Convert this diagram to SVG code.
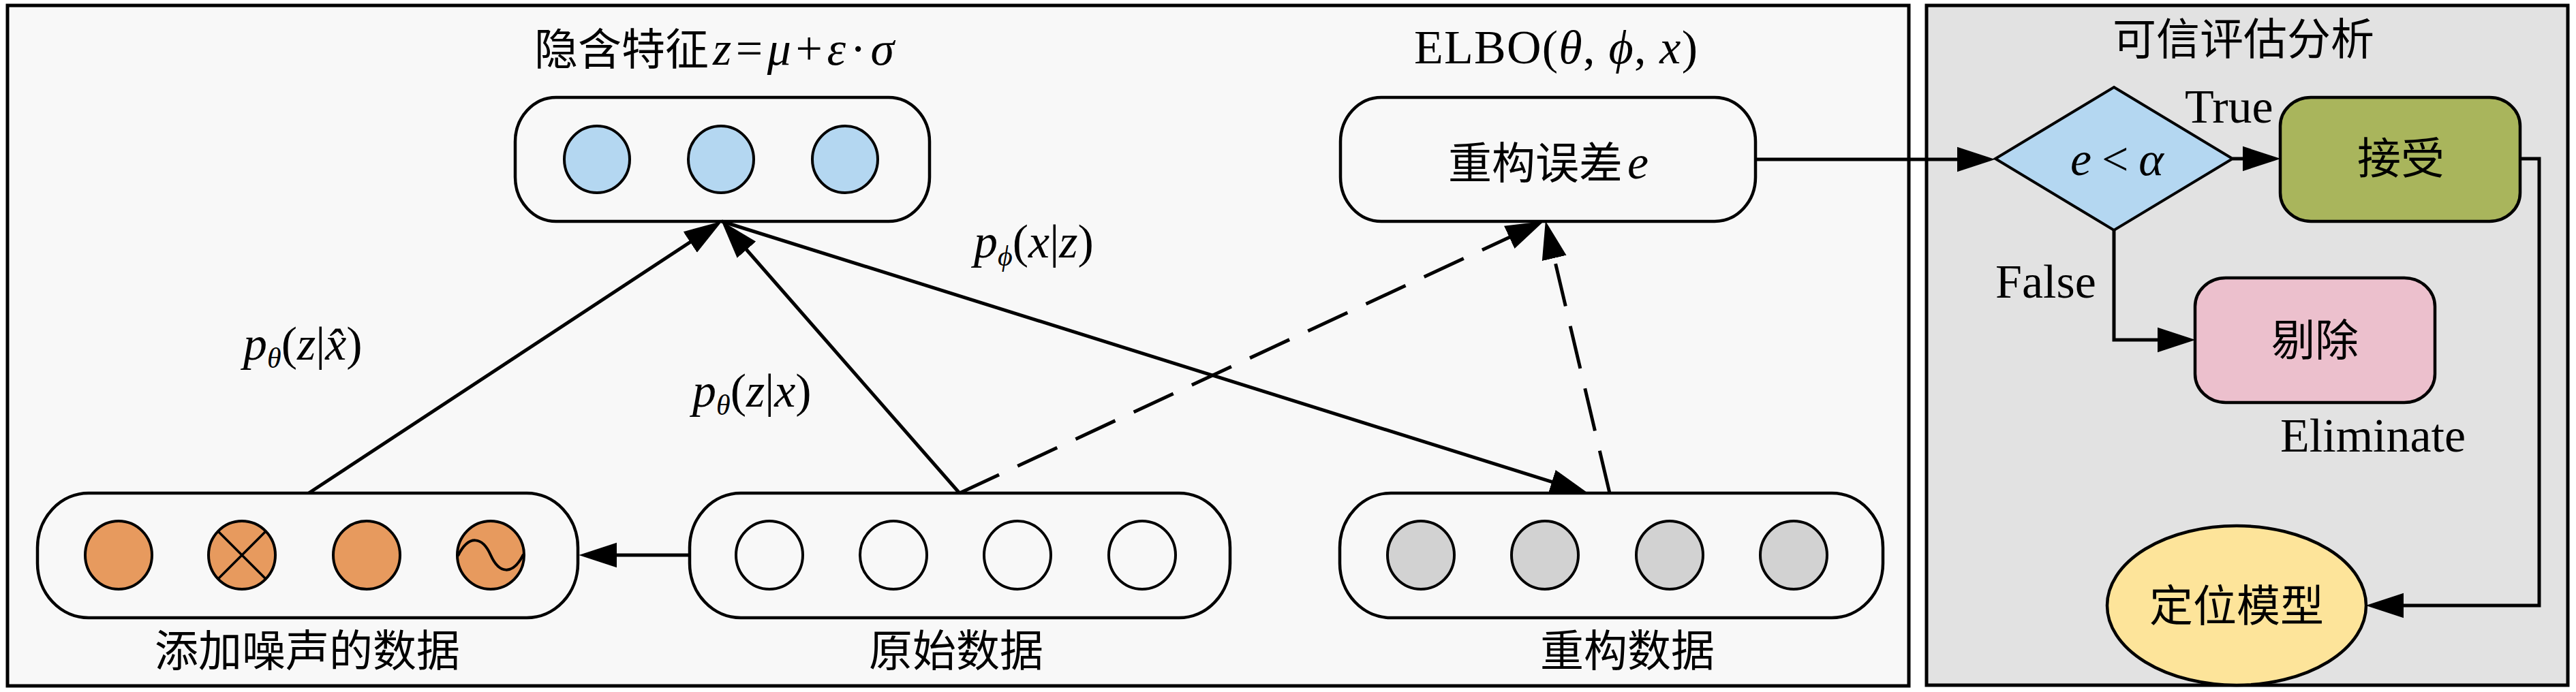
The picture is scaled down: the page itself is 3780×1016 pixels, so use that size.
<svg xmlns="http://www.w3.org/2000/svg" width="3780" height="1016" viewBox="0 0 3780 1016">
<style>
.frame{fill:#F8F8F8;stroke:#000;stroke-width:5}
.frame2{fill:#E2E2E2;stroke:#000;stroke-width:5}
.box{fill:#F8F8F8;stroke:#000;stroke-width:4.5}
.unit{stroke:#000;stroke-width:4}
.blue{fill:#B4D7F1}
.orange{fill:#E79A5E}
.white{fill:#F8F8F8}
.gray{fill:#D2D2D2}
.cjk{font-family:"Noto Sans CJK SC","Noto Sans CJK TC",sans-serif;font-size:64px;fill:#000}
.lat{font-family:"Liberation Serif","Times New Roman",serif;font-size:70px;fill:#000}
.it{font-style:italic}
.up{font-style:normal}
.conn{fill:none;stroke:#000;stroke-width:5}
.dash{stroke-dasharray:64,30}
</style>
<defs>
<marker id="ah" markerUnits="userSpaceOnUse" markerWidth="56" markerHeight="38" viewBox="0 0 52 34" refX="44" refY="17" orient="auto">
<path d="M0,0 L52,17 L0,34 z" fill="#000"/>
</marker>
</defs>
<rect x="0" y="0" width="3780" height="1016" fill="#FFFFFF"/>
<rect class="frame" x="11" y="8" width="2790" height="999"/>
<rect class="frame2" x="2827" y="8" width="941" height="998"/>

<g id="latent">
<text class="cjk" x="784" y="95">隐含特征</text>
<text class="lat it" x="1046" y="95" font-size="72" textLength="266" lengthAdjust="spacing">z<tspan class="up">=</tspan>μ<tspan class="up">+</tspan>ε<tspan class="up">·</tspan>σ</text>
<rect class="box" x="756" y="143" width="608" height="182" rx="60" ry="65"/>
<ellipse class="unit blue" cx="876" cy="234" rx="48" ry="49"/>
<ellipse class="unit blue" cx="1058" cy="234" rx="48" ry="49"/>
<ellipse class="unit blue" cx="1240" cy="234" rx="48" ry="49"/>
</g>

<g id="recon-error">
<text class="lat" x="2075" y="93" textLength="416" lengthAdjust="spacing">ELBO(<tspan class="it">θ</tspan>, <tspan class="it">ϕ</tspan>, <tspan class="it">x</tspan>)</text>
<rect class="box" x="1967" y="143" width="609" height="182" rx="60" ry="65"/>
<text class="cjk" x="2125" y="262">重构误差</text>
<text class="lat it" x="2388" y="262">e</text>
</g>

<g id="noisy-data">
<rect class="box" x="55" y="724" width="793" height="183" rx="75" ry="80"/>
<ellipse class="unit orange" cx="174" cy="815" rx="49" ry="50"/>
<ellipse class="unit orange" cx="355" cy="815" rx="49" ry="50"/>
<path d="M321,781 L389,849 M389,781 L321,849" stroke="#000" stroke-width="3.5" fill="none"/>
<ellipse class="unit orange" cx="538" cy="815" rx="49" ry="50"/>
<ellipse class="unit orange" cx="720" cy="815" rx="49" ry="50"/>
<path d="M672,816 C688,784 708,788 720,815 C732,842 752,846 768,814" stroke="#000" stroke-width="4" fill="none"/>
<text class="cjk" x="451" y="978" text-anchor="middle">添加噪声的数据</text>
</g>

<g id="original-data">
<rect class="box" x="1012" y="724" width="793" height="183" rx="75" ry="80"/>
<ellipse class="unit white" cx="1129" cy="815" rx="49" ry="50"/>
<ellipse class="unit white" cx="1311" cy="815" rx="49" ry="50"/>
<ellipse class="unit white" cx="1493" cy="815" rx="49" ry="50"/>
<ellipse class="unit white" cx="1676" cy="815" rx="49" ry="50"/>
<text class="cjk" x="1403" y="978" text-anchor="middle">原始数据</text>
</g>

<g id="recon-data">
<rect class="box" x="1966" y="724" width="797" height="183" rx="75" ry="80"/>
<ellipse class="unit gray" cx="2085" cy="815" rx="49" ry="50"/>
<ellipse class="unit gray" cx="2267" cy="815" rx="49" ry="50"/>
<ellipse class="unit gray" cx="2450" cy="815" rx="49" ry="50"/>
<ellipse class="unit gray" cx="2632" cy="815" rx="49" ry="50"/>
<text class="cjk" x="2388" y="978" text-anchor="middle">重构数据</text>
</g>

<g id="trust-title">
<text class="cjk" x="3292" y="80" text-anchor="middle">可信评估分析</text>
</g>

<g id="decision">
<path d="M3102,128 L3276,233 L3102,338 L2928,233 z" fill="#B4D7F1" stroke="#000" stroke-width="4"/>
<text class="lat it" x="3038" y="257" textLength="137" lengthAdjust="spacing">e<tspan class="up">&lt;</tspan>α</text>
</g>

<g id="accept">
<rect x="3346" y="143" width="352" height="182" rx="45" ry="42" fill="#A9B55C" stroke="#000" stroke-width="4.5"/>
<text class="cjk" x="3523" y="255" text-anchor="middle">接受</text>
</g>

<g id="eliminate">
<rect x="3221" y="408" width="352" height="183" rx="45" ry="42" fill="#ECC0CD" stroke="#000" stroke-width="4.5"/>
<text class="cjk" x="3397" y="522" text-anchor="middle">剔除</text>
</g>

<g id="model">
<ellipse cx="3282" cy="889" rx="190" ry="117" fill="#FDE49A" stroke="#000" stroke-width="4.5"/>
<text class="cjk" x="3282" y="912" text-anchor="middle">定位模型</text>
</g>

<g id="connectors">
<line class="conn" x1="1012" y1="815" x2="858" y2="815" marker-end="url(#ah)"/>
<line class="conn" x1="453" y1="724" x2="1052.3" y2="329.4" marker-end="url(#ah)"/>
<line class="conn" x1="1408" y1="724" x2="1064.3" y2="331" marker-end="url(#ah)"/>
<line class="conn" x1="1059" y1="325" x2="2322.4" y2="721.6" stroke-width="6" marker-end="url(#ah)"/>
<line class="conn dash" x1="1408" y1="724" x2="2257.7" y2="328.4" marker-end="url(#ah)"/>
<line class="conn dash" x1="2362" y1="724" x2="2269.8" y2="332.8" marker-end="url(#ah)"/>
<line class="conn" x1="2576" y1="234" x2="2919" y2="234" marker-end="url(#ah)"/>
<line class="conn" x1="3276" y1="233" x2="3338" y2="233" marker-end="url(#ah)"/>
<polyline class="conn" points="3102,338 3102,499 3213,499" marker-end="url(#ah)"/>
<polyline class="conn" points="3698,233 3726,233 3726,889 3480,889" marker-end="url(#ah)"/>
<text class="lat it" x="357" y="528" font-size="64">p<tspan font-size="42" dy="12">θ</tspan><tspan class="up" dy="-12">(</tspan>z<tspan class="up">|</tspan>x̂<tspan class="up">)</tspan></text>
<text class="lat it" x="1016" y="597" font-size="64">p<tspan font-size="42" dy="12">θ</tspan><tspan class="up" dy="-12">(</tspan>z<tspan class="up">|</tspan>x<tspan class="up">)</tspan></text>
<text class="lat it" x="1429" y="378" font-size="64">p<tspan font-size="42" dy="12">ϕ</tspan><tspan class="up" dy="-12">(</tspan>x<tspan class="up">|</tspan>z<tspan class="up">)</tspan></text>
<text class="lat" x="3206" y="180">True</text>
<text class="lat" x="2928" y="437">False</text>
<text class="lat" x="3346" y="663">Eliminate</text>
</g>
</svg>
